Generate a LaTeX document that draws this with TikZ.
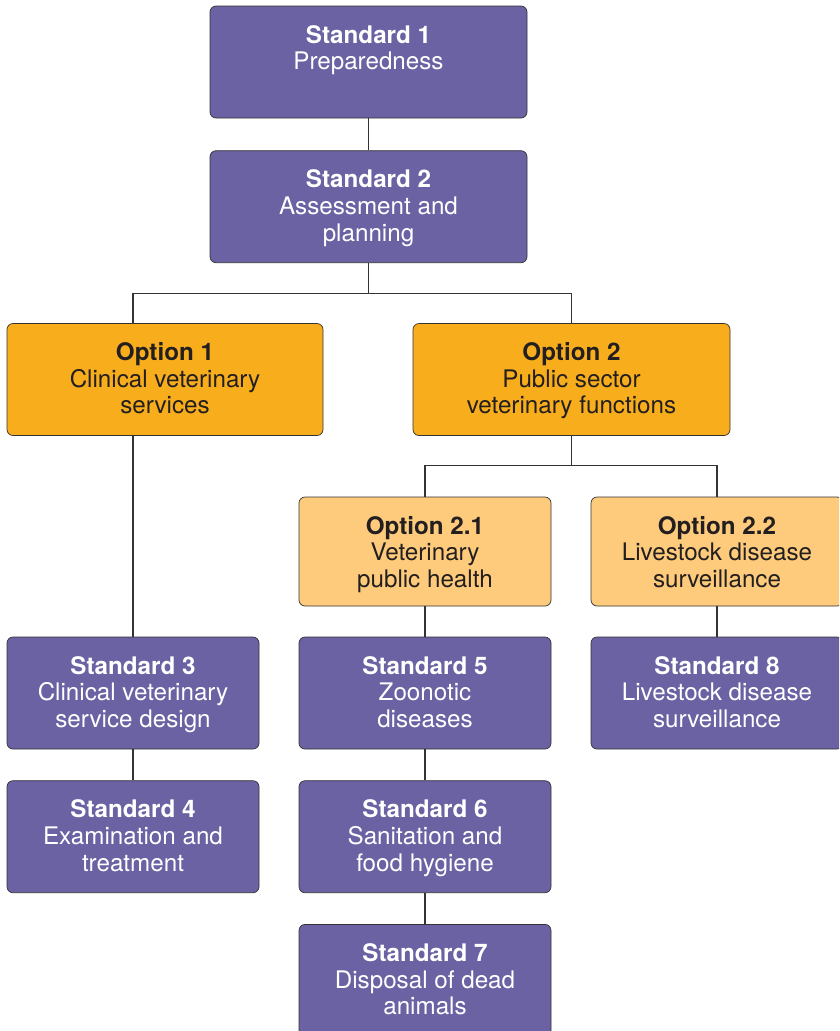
\documentclass[tikz,border=0pt]{standalone}
\usepackage{fontspec}
\setmainfont{TeX Gyre Heros}
\usetikzlibrary{positioning}
\definecolor{stdpurple}{HTML}{6A62A3}
\definecolor{optorange}{HTML}{F8AE1C}
\definecolor{suborange}{HTML}{FDCB7B}
\definecolor{linegray}{HTML}{333333}
\definecolor{textdark}{HTML}{231F20}
\newcommand{\boxtxt}[4]{\parbox[c][#2][t]{#1}{\centering\rule{0pt}{37pt}\textbf{#3}\\#4}}

\begin{document}
\begin{tikzpicture}[x=1pt, y=-1pt,
    stdnode/.style={rectangle, rounded corners=6pt, draw=linegray, line width=0.7pt, fill=stdpurple, text=white, inner sep=0pt},
    optnode/.style={stdnode, fill=optorange, text=textdark},
    subnode/.style={stdnode, fill=suborange, text=textdark},
    link/.style={draw=linegray, line width=1.1pt},
    font=\fontsize{24.2}{26.7}\selectfont,
    ]
    \useasboundingbox (0,0) rectangle (839,1031);
    \clip (0,0) rectangle (839,1031);

    %Nodes
    \node[stdnode]  (std1)  at (368.5,62)             {\boxtxt{317pt}{112pt}{Standard 1}{Preparedness}};
    \node[stdnode]  (std2)  [below=32pt of std1]      {\boxtxt{317pt}{112pt}{Standard 2}{Assessment and\\planning}};
    \node[optnode]  (opt1)  at (165,379.5)            {\boxtxt{316pt}{112pt}{Option 1}{Clinical veterinary\\services}};
    \node[optnode]  (opt2)  at (571.5,379.5)          {\boxtxt{317pt}{112pt}{Option 2}{Public sector\\veterinary functions}};
    \node[subnode]  (opt21) at (425,551.5)            {\boxtxt{252pt}{109pt}{Option 2.1}{Veterinary\\public health}};
    \node[subnode]  (opt22) at (717,551.5)            {\boxtxt{252pt}{109pt}{Option 2.2}{Livestock disease\\surveillance}};
    \node[stdnode]  (std3)  at (133,693)              {\boxtxt{252pt}{112pt}{Standard 3}{Clinical veterinary\\service design}};
    \node[stdnode]  (std4)  [below=31pt of std3]      {\boxtxt{252pt}{112pt}{Standard 4}{Examination and\\treatment}};
    \node[stdnode]  (std5)  at (425,693)              {\boxtxt{252pt}{112pt}{Standard 5}{Zoonotic\\diseases}};
    \node[stdnode]  (std6)  [below=31pt of std5]      {\boxtxt{252pt}{112pt}{Standard 6}{Sanitation and\\food hygiene}};
    \node[stdnode]  (std7)  [below=31pt of std6]      {\boxtxt{252pt}{112pt}{Standard 7}{Disposal of dead\\animals}};
    \node[stdnode]  (std8)  at (717,693)              {\boxtxt{252pt}{112pt}{Standard 8}{Livestock disease\\surveillance}};

    %Lines
    \draw[link] (std1) -- (std2);
    \draw[link] (std2.south) -- ++(0,30) -| (opt1.north -| std3.north);
    \draw[link] (std2.south) -- ++(0,30) -| (opt2.north);
    \draw[link] (opt1.south -| std3.north) -- (std3);
    \draw[link] (opt2.south) -- ++(0,30) -| (opt21.north);
    \draw[link] (opt2.south) -- ++(0,30) -| (opt22.north);
    \draw[link] (opt21) -- (std5);
    \draw[link] (std5) -- (std6);
    \draw[link] (std6) -- (std7);
    \draw[link] (opt22) -- (std8);
    \draw[link] (std3) -- (std4);
\end{tikzpicture}
\end{document}
